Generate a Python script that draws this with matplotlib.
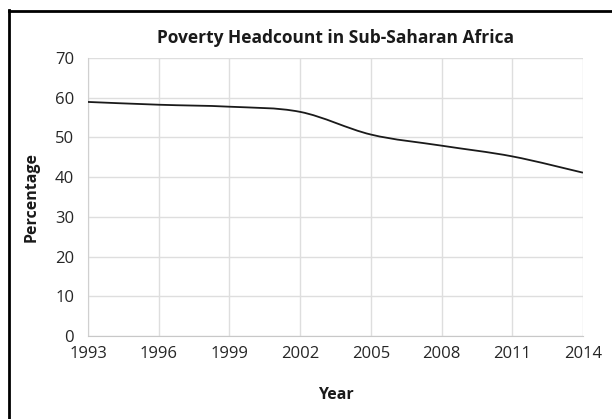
import matplotlib.pyplot as plt
import numpy as np
from matplotlib.path import Path
from matplotlib.patches import PathPatch
from matplotlib.lines import Line2D

years = [1993, 1996, 1999, 2002, 2005, 2008, 2011, 2014]
headcount = [58.9, 58.2, 57.7, 56.4, 50.7, 47.9, 45.2, 41.1]
y_ticks = [0, 10, 20, 30, 40, 50, 60, 70]

plt.rcParams["font.family"] = ["Open Sans", "DejaVu Sans"]

fig = plt.figure(figsize=(6.12, 4.19), dpi=100)
ax = fig.add_axes([0.1438, 0.198, 0.8088, 0.664])

# smoothed line like Excel (Catmull-Rom as cubic bezier segments)
x = np.array(years, dtype=float)
y = np.array(headcount, dtype=float)
verts = [(x[0], y[0])]
codes = [Path.MOVETO]
n = len(x)
for i in range(n - 1):
    p0 = (x[max(i - 1, 0)], y[max(i - 1, 0)])
    p1 = (x[i], y[i])
    p2 = (x[i + 1], y[i + 1])
    p3 = (x[min(i + 2, n - 1)], y[min(i + 2, n - 1)])
    c1 = (p1[0] + (p2[0] - p0[0]) / 6, p1[1] + (p2[1] - p0[1]) / 6)
    c2 = (p2[0] - (p3[0] - p1[0]) / 6, p2[1] - (p3[1] - p1[1]) / 6)
    verts += [c1, c2, p2]
    codes += [Path.CURVE4] * 3
ax.add_patch(PathPatch(Path(verts, codes), fill=False, edgecolor="#1a1a1a", lw=1.3, zorder=3))

ax.set_xlim(1993, 2014)
ax.set_ylim(0, 70)
ax.set_xticks(years)
ax.set_yticks(y_ticks)
ax.grid(True, color="#dedede", lw=1)
ax.set_axisbelow(True)
for s in ["top", "right"]:
    ax.spines[s].set_visible(False)
ax.spines["left"].set_color("#d0d0d0")
ax.spines["bottom"].set_color("#c8c8c8")
ax.tick_params(length=0, labelsize=12, colors="#262626", pad=7)
ax.tick_params(axis="y", pad=10)

ax.set_title("Poverty Headcount in Sub-Saharan Africa", fontsize=12.5, fontweight="bold",
             color="#1a1a1a", pad=11)
ax.set_xlabel("Year", fontsize=11.5, fontweight="bold", color="#1a1a1a", labelpad=18)
ax.set_ylabel("Percentage", fontsize=11.5, fontweight="bold", color="#1a1a1a", labelpad=11)

# frame: only top and left edges visible in the reference
fig.lines.append(Line2D([0.014, 1.0], [0.974, 0.974], transform=fig.transFigure,
                        color="black", lw=2))
fig.lines.append(Line2D([0.0147, 0.0147], [0.0, 0.975], transform=fig.transFigure,
                        color="black", lw=2))

fig.savefig("out.png", dpi=100)
